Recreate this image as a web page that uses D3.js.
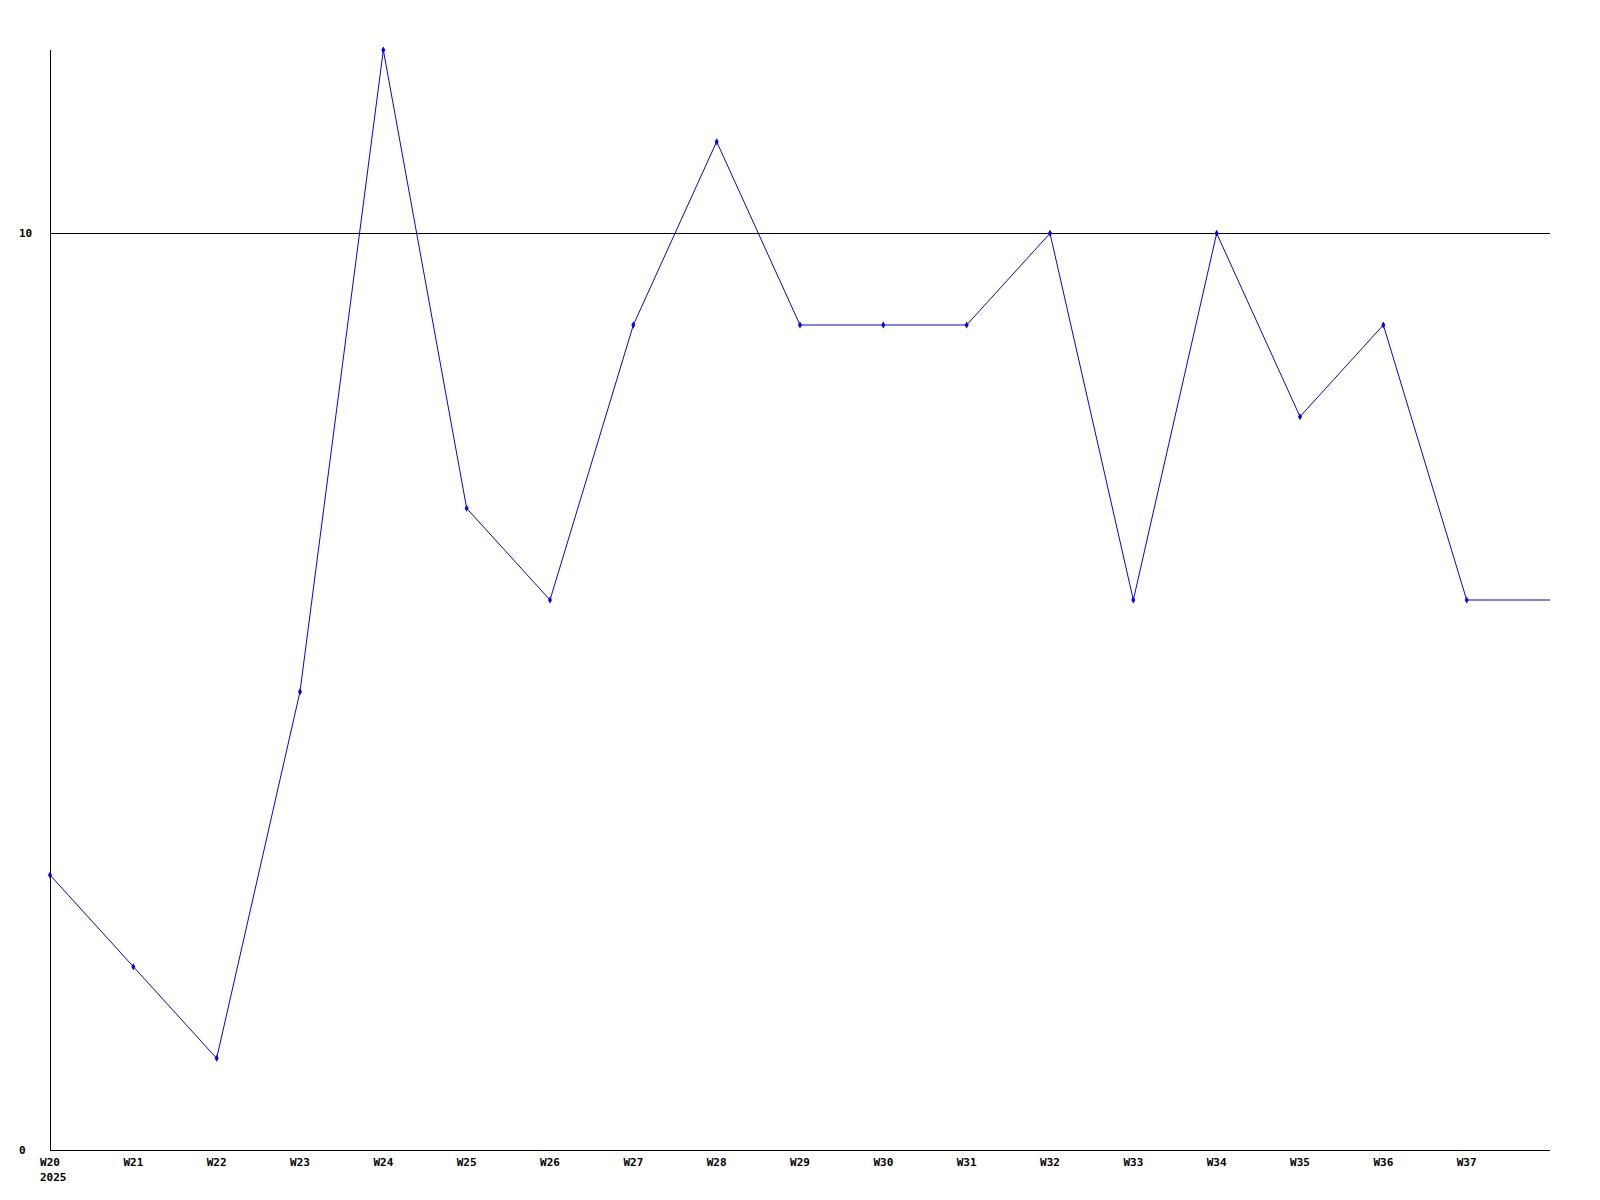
<!DOCTYPE html>
<html>
<head>
<meta charset="utf-8">
<script src="https://cdn.jsdelivr.net/npm/d3@7"></script>
<style>
  body { margin: 0; background: #fff; }
  text { font-family: "DejaVu Sans Mono", monospace; font-weight: bold; font-size: 11px; fill: #000; }
</style>
</head>
<body>
<div id="chart"></div>
<script>
var svgWidth = 1600;
var svgHeight = 1200;

// data
var weeks = ["W20", "W21", "W22", "W23", "W24", "W25", "W26", "W27", "W28",
  "W29", "W30", "W31", "W32", "W33", "W34", "W35", "W36", "W37"];
var counts = [3, 2, 1, 5, 12, 7, 6, 9, 11, 9, 9, 9, 10, 6, 10, 8, 9, 6];
var yearLabel = "2025";
var yTicks = [0, 10];

var margin = { top: 50, right: 50, bottom: 50, left: 50 };
var width = svgWidth - margin.left - margin.right;
var height = svgHeight - margin.top - margin.bottom;

var svg = d3.select("#chart")
  .append("svg")
  .attr("width", svgWidth)
  .attr("height", svgHeight);

var chartGroup = svg.append("g")
  .attr("transform", `translate(${margin.left}, ${margin.top})`);

var xScale = d3.scaleLinear()
  .domain([0, weeks.length])
  .range([0, width]);

var yScale = d3.scaleLinear()
  .domain([0, 12])
  .range([height, 0]);

// horizontal reference lines at the y ticks
chartGroup.append("g")
  .selectAll("line")
  .data(yTicks.filter(d => d > 0))
  .enter()
  .append("line")
  .attr("x1", 0)
  .attr("x2", width)
  .attr("y1", d => yScale(d))
  .attr("y2", d => yScale(d))
  .attr("stroke", "#000")
  .attr("stroke-width", 1)
  .attr("shape-rendering", "crispEdges");

// axes drawn as plain lines
chartGroup.append("line")
  .attr("x1", 0).attr("x2", 0)
  .attr("y1", 0).attr("y2", height)
  .attr("stroke", "#000")
  .attr("shape-rendering", "crispEdges");

chartGroup.append("line")
  .attr("x1", 0).attr("x2", width)
  .attr("y1", height).attr("y2", height)
  .attr("stroke", "#000")
  .attr("shape-rendering", "crispEdges");

// y labels
chartGroup.append("g")
  .selectAll("text")
  .data(yTicks)
  .enter()
  .append("text")
  .attr("x", -31)
  .attr("y", d => yScale(d))
  .attr("dominant-baseline", "central")
  .text(d => d);

// x labels
chartGroup.append("g")
  .selectAll("text")
  .data(weeks)
  .enter()
  .append("text")
  .attr("x", (d, i) => xScale(i))
  .attr("y", height + 16)
  .attr("text-anchor", "middle")
  .text(d => d);

chartGroup.append("text")
  .attr("x", xScale(0) - 10)
  .attr("y", height + 31)
  .text(yearLabel);

// line, last value held to the right edge
var points = counts.map((d, i) => [i, d]);
points.push([weeks.length, counts[counts.length - 1]]);

var line = d3.line()
  .x(d => xScale(d[0]))
  .y(d => yScale(d[1]));

chartGroup.append("path")
  .datum(points)
  .attr("d", line)
  .attr("fill", "none")
  .attr("stroke", "#0000ff")
  .attr("stroke-width", 1);

// markers
var marker = d3.symbol().type(d3.symbolDiamond).size(14);
chartGroup.append("g")
  .selectAll("path")
  .data(counts)
  .enter()
  .append("path")
  .attr("d", marker)
  .attr("transform", (d, i) => `translate(${xScale(i)}, ${yScale(d)})`)
  .attr("fill", "#0000ff");
</script>
</body>
</html>
